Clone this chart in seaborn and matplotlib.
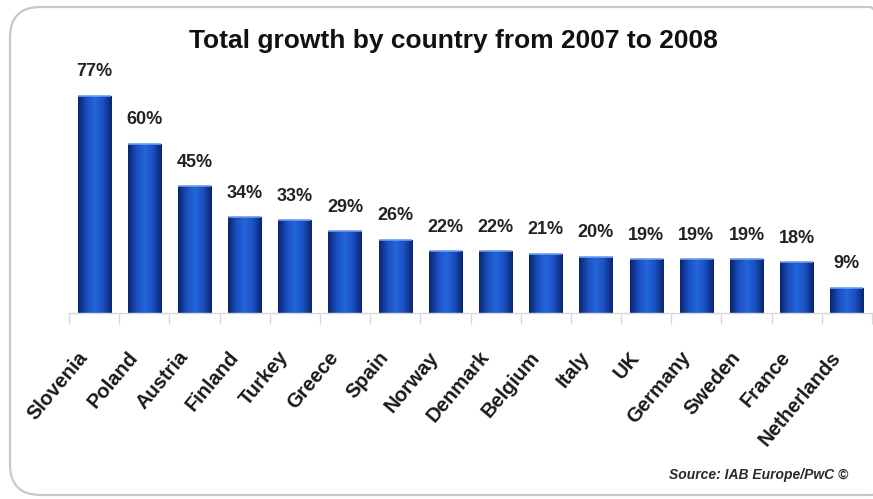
import numpy as np
import pandas as pd
import matplotlib
matplotlib.use("Agg")
import matplotlib.pyplot as plt
from matplotlib.patches import FancyBboxPatch
from matplotlib.colors import LinearSegmentedColormap
from matplotlib.transforms import ScaledTranslation
import seaborn as sns

countries = ["Slovenia", "Poland", "Austria", "Finland", "Turkey", "Greece", "Spain",
             "Norway", "Denmark", "Belgium", "Italy", "UK", "Germany", "Sweden",
             "France", "Netherlands"]
growth = [77, 60, 45, 34, 33, 29, 26, 22, 22, 21, 20, 19, 19, 19, 18, 9]

title = "Total growth by country from 2007 to 2008"
source = "Source: IAB Europe/PwC \u00a9"

df = pd.DataFrame({"country": countries, "growth": growth})

sns.set_theme(style="white")
plt.rcParams["font.family"] = ["Liberation Sans", "DejaVu Sans"]

W, H = 873, 499
fig = plt.figure(figsize=(W / 100, H / 100), dpi=100)
fig.patch.set_facecolor("white")

# rounded frame around the whole chart
frame = FancyBboxPatch((10 / W, 4 / H), (900 - 10) / W, (492 - 4) / H,
                       boxstyle="round,pad=0,rounding_size=0.035",
                       transform=fig.transFigure, facecolor="none",
                       edgecolor="#c8c8c8", linewidth=1.6, mutation_aspect=W / H)
fig.patches.append(frame)

ax = fig.add_axes([69 / W, 186 / H, 803 / W, 240 / H])
sns.barplot(data=df, x="country", y="growth", color="#1a52c0", width=0.66,
            saturation=1, ax=ax, edgecolor="none")
ax.set_xlim(-0.5, len(countries) - 0.5)
ax.set_ylim(0, 85)

# horizontal shading on each bar: dark edges, brighter middle
cmap = LinearSegmentedColormap.from_list(
    "barshade", ["#0a2470", "#1a4fbf", "#2466db", "#1a4fbf", "#0a2470"])
grad = np.linspace(0, 1, 64).reshape(1, -1)
for patch in ax.patches:
    x0, y0 = patch.get_x(), patch.get_y()
    w, h = patch.get_width(), patch.get_height()
    im = ax.imshow(grad, cmap=cmap, aspect="auto", extent=(x0, x0 + w, y0, y0 + h),
                   zorder=patch.get_zorder() + 0.1, interpolation="bicubic")
    im.set_clip_path(patch)
    ax.plot([x0, x0 + w], [y0 + h, y0 + h], color="#6f9cf0", lw=1.2,
            zorder=patch.get_zorder() + 0.2, solid_capstyle="butt")
ax.set_xlim(-0.5, len(countries) - 0.5)
ax.set_ylim(0, 85)

for i, v in enumerate(growth):
    ax.annotate(f"{v}%", (i, v), xytext=(0, 11), textcoords="offset points",
                ha="center", va="bottom", fontsize=13, fontweight="bold",
                color="#222222")

for s in ["left", "right", "top"]:
    ax.spines[s].set_visible(False)
ax.spines["bottom"].set_color("#d9d9d9")
ax.spines["bottom"].set_linewidth(1.0)
ax.set_yticks([])
ax.set_xlabel("")
ax.set_ylabel("")

# category separator ticks below the baseline
ax.set_xticks(np.arange(len(countries) + 1) - 0.5, minor=True)
ax.tick_params(axis="x", which="minor", length=8, color="#d9d9d9", width=1.0,
               bottom=True)
ax.tick_params(axis="x", which="major", length=0, pad=25)
ax.set_xticks(range(len(countries)))
ax.set_xticklabels(countries, rotation=50, ha="right", rotation_mode="anchor",
                   fontsize=14.5, fontweight="bold", color="#1a1a1a")
shift = ScaledTranslation(-17 / 100, 0 / 100, fig.dpi_scale_trans)
for lbl in ax.get_xticklabels():
    lbl.set_transform(lbl.get_transform() + shift)

fig.text(453 / W, 1 - 41 / H, title, ha="center", va="center", fontsize=19,
         fontweight="bold", color="#111111")
fig.text(848 / W, 1 - 475 / H, source, ha="right", va="center", fontsize=10,
         fontweight="bold", fontstyle="italic", color="#2a2a2a")

fig.savefig("out.png", dpi=100, facecolor="white")
